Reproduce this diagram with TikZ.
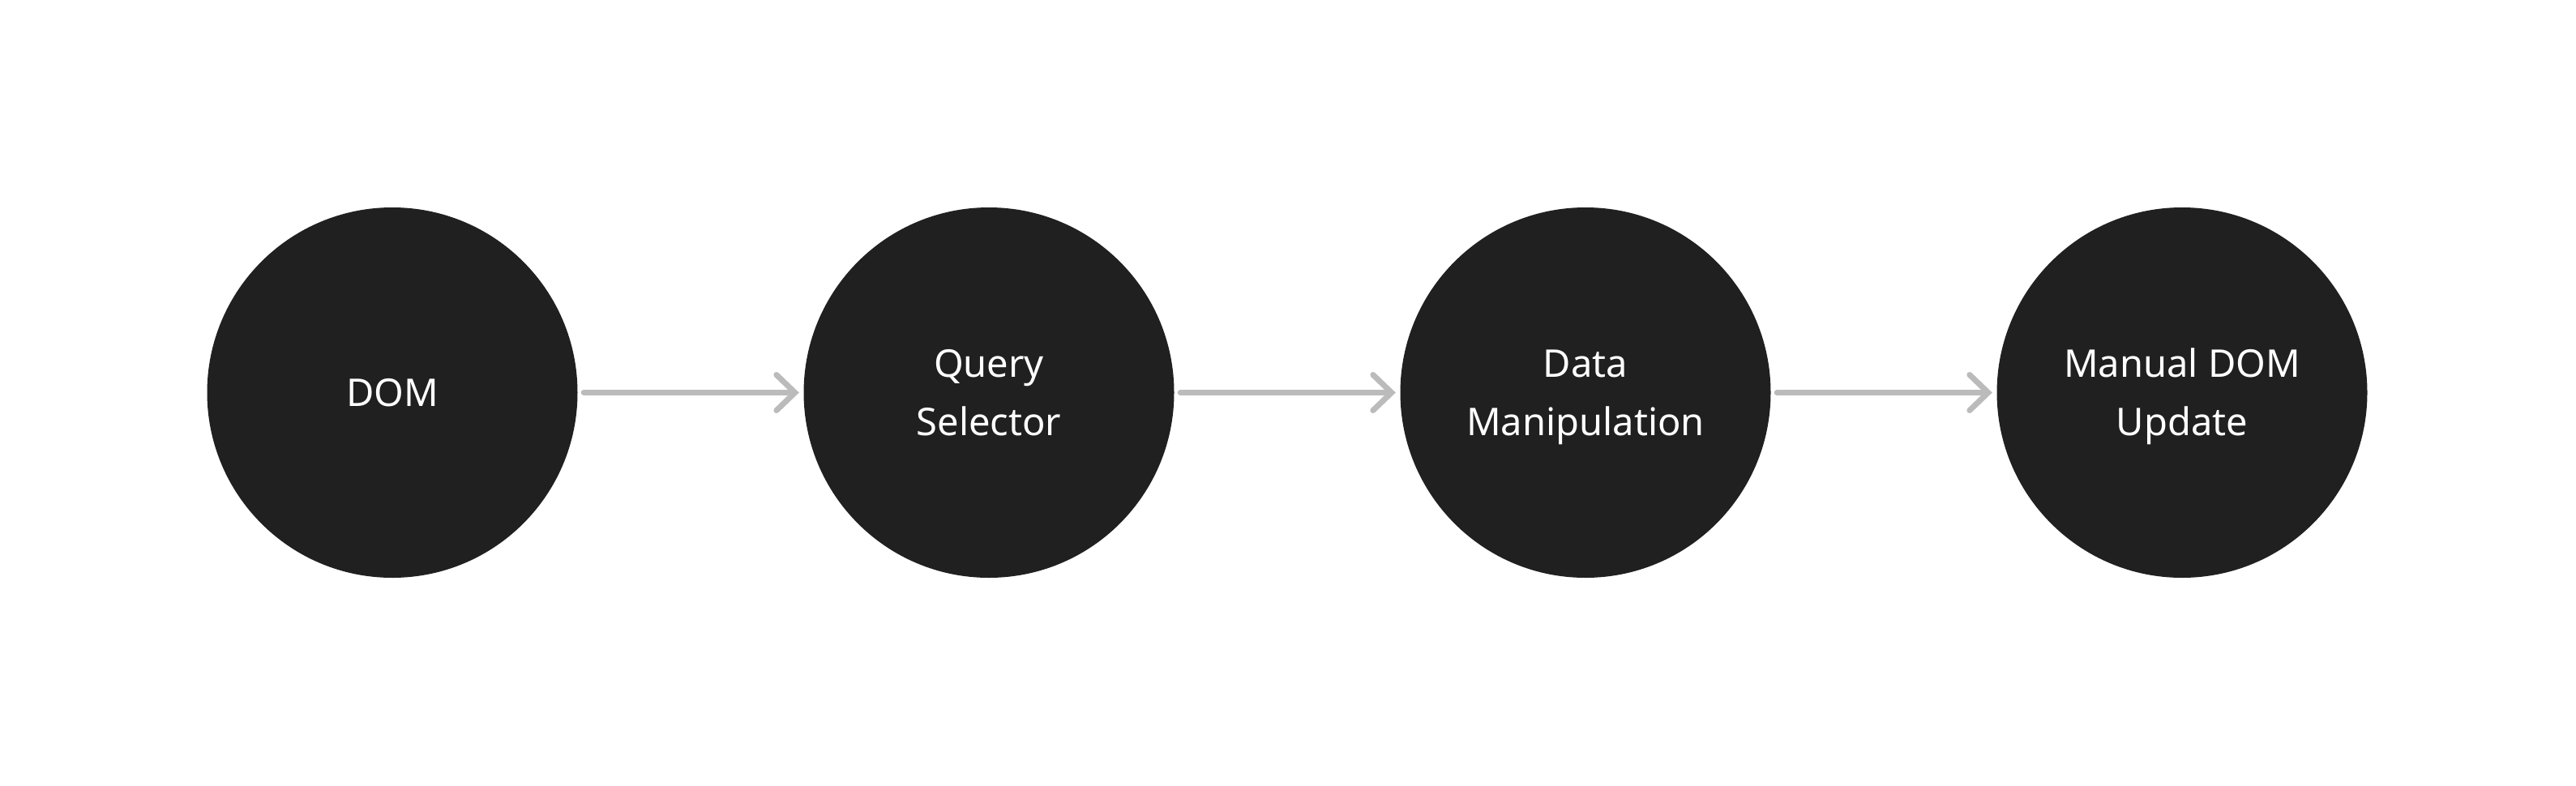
\documentclass[tikz,border=0pt]{standalone}
\usepackage{fontspec}
\setmainfont{Noto Sans}
\usetikzlibrary{arrows.meta}
\definecolor{stage_fill}{RGB}{32, 32, 32}
\definecolor{flow_gray}{RGB}{187, 187, 187}
\tikzstyle{stage}=[circle,fill=stage_fill,draw=none,minimum size=4.57cm,
  inner sep=0pt,text=white,align=center,font=\fontsize{13.4}{20.5}\selectfont,
  text height=9.6pt,text depth=0pt]
\tikzstyle{twoline}=[text height=30.1pt,text depth=0pt]
\tikzstyle{flow}=[draw=flow_gray,line width=2pt,line cap=round,
  -{Straight Barb[length=6.5pt,width=12.5pt,line cap=round]},
  shorten <=0.07cm,shorten >=0.05cm]

\begin{document}
\begin{tikzpicture}
    \useasboundingbox (0,0) rectangle (31.78,-9.70);
    \node [style=stage] (dom) at (4.84,-4.845) {DOM};
    \node [style=stage,style=twoline] (query) at (12.20,-4.845) {Query\\Selector};
    \node [style=stage,style=twoline] (data) at (19.56,-4.845) {Data\\Manipulation};
    \node [style=stage,style=twoline] (update) at (26.92,-4.845) {Manual DOM\\Update};
    \draw [style=flow] (dom) to (query);
    \draw [style=flow] (query) to (data);
    \draw [style=flow] (data) to (update);
  \end{tikzpicture}
\end{document}
